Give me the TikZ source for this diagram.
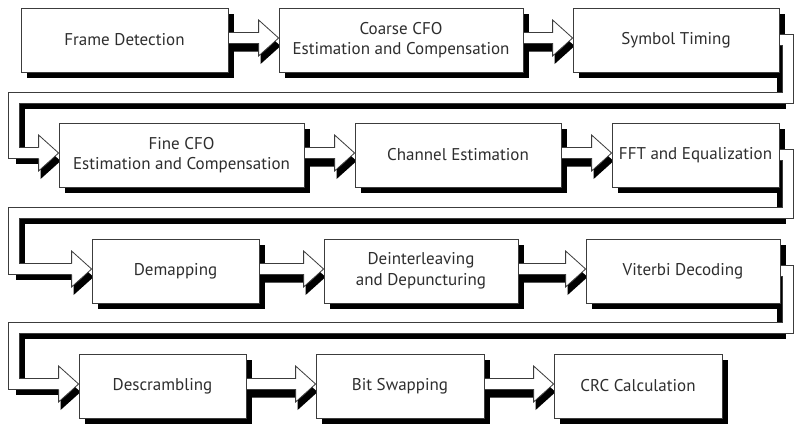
\documentclass[tikz,border=0pt]{standalone}
\usepackage{fontspec}
\setmainfont{PT Sans}
\usetikzlibrary{calc}
\pgfdeclarelayer{bgl}
\pgfdeclarelayer{shd}
\pgfdeclarelayer{wht}
\pgfsetlayers{bgl,shd,wht,main}
\definecolor{linec}{RGB}{60,60,60}
\tikzset{
  box/.style={draw=linec, line width=0.8pt, fill=white, rectangle, inner sep=2pt,
    align=center, text=black!82, font=\fontsize{17}{20.5}\selectfont},
  arrw/.style={fill=white, draw=linec, line width=0.8pt, miter limit=20},
  pipe/.style={draw=linec, line width=1pt, double=white, double distance=10pt, miter limit=20},
}
\newcommand\boxshadow[1]{%
  \begin{pgfonlayer}{shd}
    \fill[black] ([shift={(6pt,-6pt)}]#1.north west) rectangle ([shift={(6pt,-6pt)}]#1.south east);
  \end{pgfonlayer}}
\newcommand\harrow[2]{%
  \begin{pgfonlayer}{shd}
    \fill[black] let \p1=(#1.east), \p2=(#2.west) in
      (\x1+2pt,\y1-0.5pt) -- (\x2-18pt,\y1-0.5pt) -- (\x2-18pt,\y1+12pt) -- (\x2+2pt,\y1-6pt)
      -- (\x2-18pt,\y1-24pt) -- (\x2-18pt,\y1-11.5pt) -- (\x1+2pt,\y1-11.5pt) -- cycle;
  \end{pgfonlayer}
  \begin{pgfonlayer}{wht}
    \filldraw[arrw] let \p1=(#1.east), \p2=(#2.west) in
      (\x1,\y1+7.5pt) -- (\x2-20pt,\y1+7.5pt) -- (\x2-20pt,\y1+20pt) -- (\x2,\y1+2pt)
      -- (\x2-20pt,\y1-16pt) -- (\x2-20pt,\y1-3.5pt) -- (\x1,\y1-3.5pt);
  \end{pgfonlayer}}
\newcommand\wrap[3]{%
  \begin{pgfonlayer}{shd}
    \draw[black, line width=9pt, miter limit=20] let \p1=(#1.east), \p2=(#2.west) in
      (\x1,\y1-6.5pt) -- (781.5pt,\y1-6.5pt) -- (781.5pt,-#3pt-6.5pt) -- (20.5pt,-#3pt-6.5pt)
      -- (20.5pt,\y2+2pt-6.5pt) -- (\x2-20pt,\y2+2pt-6.5pt);
    \fill[black] let \p2=(#2.west) in
      (\x2-18pt,\y2+12pt) -- (\x2+2pt,\y2-6pt) -- (\x2-18pt,\y2-24pt) -- cycle;
  \end{pgfonlayer}
  \begin{pgfonlayer}{wht}
    \draw[pipe] let \p1=(#1.east), \p2=(#2.west) in
      (\x1,\y1) -- (788pt,\y1) -- (788pt,-#3pt) -- (14pt,-#3pt)
      -- (14pt,\y2+2pt) -- (\x2-20pt,\y2+2pt);
    \filldraw[arrw] let \p2=(#2.west) in
      (\x2-20pt,\y2+7.5pt) -- (\x2-20pt,\y2+20pt) -- (\x2,\y2+2pt)
      -- (\x2-20pt,\y2-16pt) -- (\x2-20pt,\y2-3.5pt);
  \end{pgfonlayer}}
\begin{document}
\begin{tikzpicture}[x=1pt,y=-1pt]
\begin{pgfonlayer}{bgl}
  \fill[white] (0,0) rectangle (806,424);
\end{pgfonlayer}
\useasboundingbox (0,0) rectangle (806,424);
% row 1
\node[box, minimum width=207pt, minimum height=64pt] (fd) at (124.5,40) {Frame Detection};
\node[box, minimum width=244pt, minimum height=64pt] (cc) at (401,40) {Coarse CFO\\Estimation and Compensation};
\node[box, minimum width=206pt, minimum height=64pt] (st) at (676,40) {Symbol Timing};
% row 2
\node[box, minimum width=245pt, minimum height=64pt] (fc) at (181.5,155) {Fine CFO\\Estimation and Compensation};
\node[box, minimum width=206pt, minimum height=64pt] (ce) at (458,155) {Channel Estimation};
\node[box, minimum width=167pt, minimum height=64pt] (fe) at (695.5,155) {FFT and Equalization};
% row 3
\node[box, minimum width=167pt, minimum height=64pt] (dm) at (175.5,271) {Demapping};
\node[box, minimum width=194pt, minimum height=64pt] (di) at (421,271) {Deinterleaving\\and Depuncturing};
\node[box, minimum width=194pt, minimum height=64pt] (vd) at (683,271) {Viterbi Decoding};
% row 4
\node[box, minimum width=167pt, minimum height=64pt] (ds) at (162.5,386) {Descrambling};
\node[box, minimum width=168pt, minimum height=64pt] (bs) at (400,386) {Bit Swapping};
\node[box, minimum width=168pt, minimum height=64pt] (crc) at (638,386) {CRC Calculation};
% shadows
\foreach \n in {fd,cc,st,fc,ce,fe,dm,di,vd,ds,bs,crc} {\boxshadow{\n}}
% straight arrows
\harrow{fd}{cc}
\harrow{cc}{st}
\harrow{fc}{ce}
\harrow{ce}{fe}
\harrow{dm}{di}
\harrow{di}{vd}
\harrow{ds}{bs}
\harrow{bs}{crc}
% wrap-around arrows
\wrap{st}{fc}{98}
\wrap{fe}{dm}{213}
\wrap{vd}{ds}{328}
\end{tikzpicture}
\end{document}
